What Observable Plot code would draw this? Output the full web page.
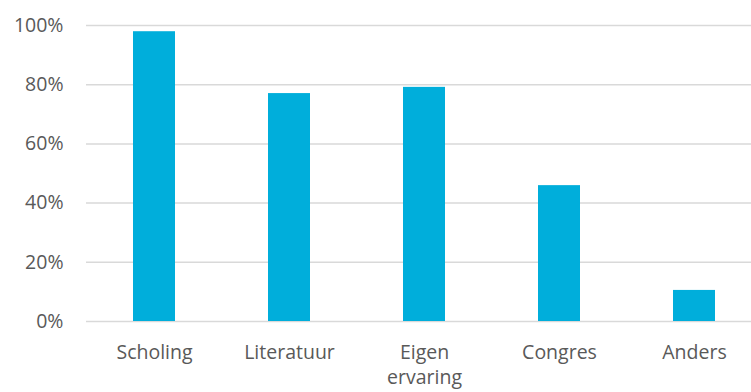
<!DOCTYPE html>
<html><head><meta charset="utf-8">
<script src="https://cdn.jsdelivr.net/npm/d3@7"></script>
<script src="https://cdn.jsdelivr.net/npm/@observablehq/plot@0.6"></script>
<style>body{margin:0;background:#fff}</style>
</head><body><div id="chart"></div>
<script>
const categories = ["Scholing", "Literatuur", "Eigen\nervaring", "Congres", "Anders"];
const values = [0.979, 0.770, 0.791, 0.459, 0.105];
const yTicks = [0, 0.2, 0.4, 0.6, 0.8, 1.0];

const data = categories.map((c, i) => ({category: c, value: values[i]}));

const chart = Plot.plot({
  width: 751,
  height: 392,
  marginLeft: 86,
  marginRight: 0,
  marginTop: 25,
  marginBottom: 71,
  style: {fontFamily: "'Open Sans', sans-serif", fontSize: "19.5px", color: "#595959", background: "#fff"},
  x: {domain: categories, range: [86.5, 761.5], paddingInner: 0.69, paddingOuter: 0.345, label: null},
  y: {domain: [0, 1], label: null},
  marks: [
    Plot.ruleY(yTicks, {stroke: "#d9d9d9", strokeWidth: 1.5}),
    Plot.barY(data, {x: "category", y: "value", fill: "#00aedb"}),
    Plot.axisY({ticks: yTicks, tickFormat: d => Math.round(d * 100) + "%", tickSize: 0, tickPadding: 23, fill: "#595959", fontSize: 19.5, label: null}),
    Plot.axisX({tickSize: 0, tickPadding: 19, fill: "#595959", fontSize: 19.5, label: null, lineHeight: 1.3})
  ]
});
document.getElementById("chart").append(chart);
</script></body></html>
